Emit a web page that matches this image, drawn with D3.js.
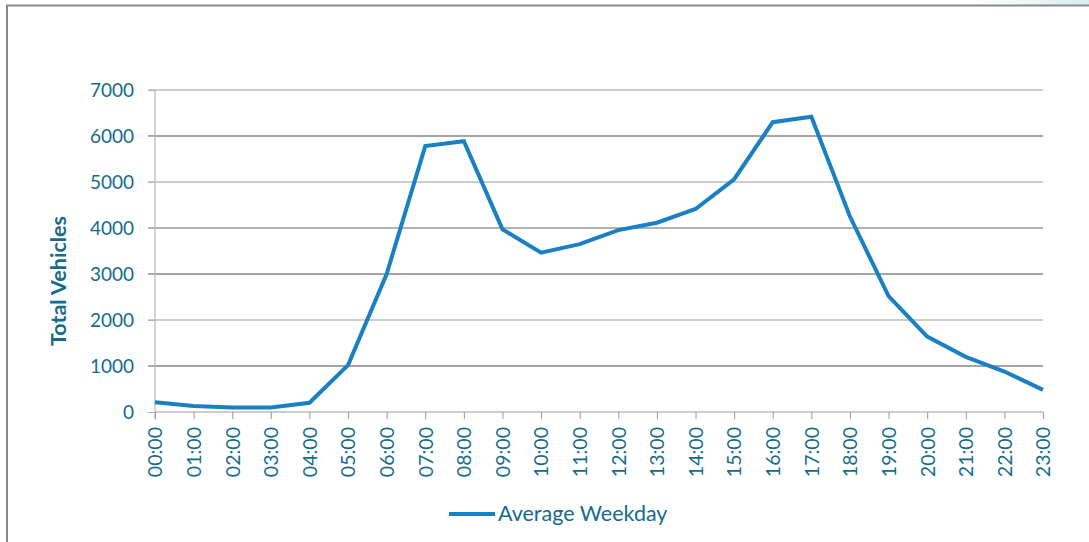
<!DOCTYPE html>
<html>
<head>
<meta charset="utf-8">
<script src="https://cdn.jsdelivr.net/npm/d3@7"></script>
<style>
  html, body { margin: 0; padding: 0; background: #fff; }
  svg { display: block; }
</style>
</head>
<body>
<svg id="chart" width="1089" height="542"></svg>
<script>
const hours = ["00:00","01:00","02:00","03:00","04:00","05:00","06:00","07:00","08:00","09:00","10:00","11:00",
               "12:00","13:00","14:00","15:00","16:00","17:00","18:00","19:00","20:00","21:00","22:00","23:00"];
const averageWeekday = [210,130,100,100,200,1020,3000,5780,5885,3970,3465,3650,
                        3955,4115,4413,5060,6300,6420,4250,2520,1640,1200,880,480];
const yTicks = [0,1000,2000,3000,4000,5000,6000,7000];
const seriesName = "Average Weekday";
const yTitle = "Total Vehicles";

const textColor = "#156b8c";
const lineColor = "#1a80c4";
const font = "Lato, 'Open Sans', sans-serif";

const svg = d3.select("#chart");

// frame and top-right gradient strip
const defs = svg.append("defs");
const grad = defs.append("linearGradient").attr("id","tg").attr("x1","0").attr("x2","1");
grad.append("stop").attr("offset","0").attr("stop-color","#ffffff");
grad.append("stop").attr("offset","1").attr("stop-color","#dcecec");
svg.append("rect").attr("x",968).attr("y",0).attr("width",121).attr("height",5).attr("fill","url(#tg)");
svg.append("line").attr("x1",6).attr("x2",1089).attr("y1",5.5).attr("y2",5.5).attr("stroke","#8a8a8a").attr("stroke-width",2);
svg.append("line").attr("x1",7).attr("x2",7).attr("y1",5).attr("y2",542).attr("stroke","#8a8a8a").attr("stroke-width",2);

const x = d3.scalePoint().domain(hours).range([155, 1043]);
const y = d3.scaleLinear().domain([0, 7000]).range([412, 90]);

// gridlines
const gridShades = ["#868686","#bdbdbd","#868686","#999999","#bdbdbd","#868686","#bdbdbd"];
svg.append("g").selectAll("line").data(yTicks.filter(d => d > 0)).join("line")
  .attr("x1", 148).attr("x2", 1043)
  .attr("y1", d => y(d)).attr("y2", d => y(d))
  .attr("stroke", (d,i) => gridShades[i])
  .attr("stroke-width", 1.3);

// y axis
const yAxis = svg.append("g").attr("transform","translate(155,0)")
  .call(d3.axisLeft(y).tickValues(yTicks).tickSize(7).tickPadding(14).tickFormat(d3.format("d")));
yAxis.select(".domain").attr("stroke","#bdbdbd").attr("stroke-width",1.3).attr("d","M0,90V419");
yAxis.selectAll(".tick line").attr("stroke","#b0b0b0");
yAxis.selectAll(".tick text").attr("fill",textColor).style("font-family",font).style("font-size","19px");

// x axis
const xAxis = svg.append("g").attr("transform","translate(0,412)")
  .call(d3.axisBottom(x).tickSize(7).tickPadding(0));
xAxis.select(".domain").attr("stroke","#bdbdbd").attr("stroke-width",1.3).attr("d","M155,0H1043");
xAxis.selectAll(".tick line").attr("stroke","#999");
xAxis.selectAll(".tick text")
  .attr("fill",textColor).style("font-family",font).style("font-size","19.5px")
  .attr("transform","rotate(-90)")
  .attr("x",-15).attr("y",0).attr("dy","0.35em")
  .attr("text-anchor","end");

// line
const line = d3.line().x((d,i) => x(hours[i])).y(d => y(d));
svg.append("path").datum(averageWeekday)
  .attr("d", line).attr("fill","none")
  .attr("stroke", lineColor).attr("stroke-width", 4).attr("stroke-linejoin","miter");

// y title
svg.append("text")
  .attr("transform","translate(66,281) rotate(-90)")
  .attr("text-anchor","middle")
  .attr("fill",textColor).style("font-family",font).style("font-size","21.5px").style("font-weight","bold")
  .text(yTitle);

// legend
svg.append("line").attr("x1",449).attr("x2",495).attr("y1",514).attr("y2",514)
  .attr("stroke",lineColor).attr("stroke-width",4);
svg.append("text").attr("x",498).attr("y",521)
  .attr("fill",textColor).style("font-family",font).style("font-size","21.5px")
  .text(seriesName);
</script>
</body>
</html>
